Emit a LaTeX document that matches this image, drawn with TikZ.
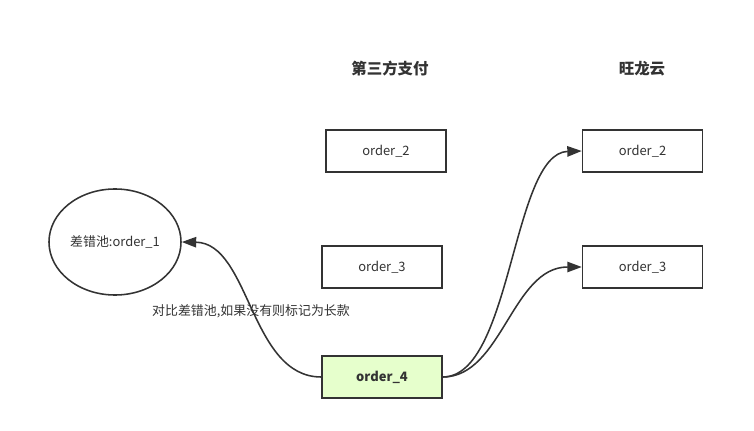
\documentclass[tikz,border=0pt]{standalone}
\usepackage{fontspec}
\setmainfont{Noto Sans CJK SC}
\usepackage{tikz}
\usetikzlibrary{arrows.meta,shapes.geometric}
\definecolor{ink}{RGB}{51,51,51}
\definecolor{mint}{RGB}{230,255,204}
\tikzset{
  orderbox/.style={draw=ink, line width=1.1pt, fill=white, text=ink,
              minimum width=3cm, minimum height=1.05cm, inner sep=2pt, font=\fontsize{9.2}{11}\selectfont},
  poolnode/.style={ellipse, draw=ink, line width=1.1pt, text=ink,
              minimum width=3.3cm, minimum height=2.65cm, inner sep=1pt, font=\fontsize{9.2}{11}\selectfont},
  title/.style={text=ink, font=\fontsize{11}{13}\selectfont\bfseries},
  flow/.style={-{Triangle[length=3.6mm,width=2.6mm]}, ink, line width=1.1pt},
}
\begin{document}
\begin{tikzpicture}[x=0.025cm,y=-0.025cm]
        \useasboundingbox (0,0) rectangle (754,431);
        \node[title] (t3rd) at (390,69) {第三方支付};
        \node[title] (twly) at (642,69) {旺龙云};
        \node[poolnode] (pool) at (115,242) {差错池:order\_1};
        \node[orderbox] (p2) at (386,151) {order\_2};
        \node[orderbox] (p3) at (382,267) {order\_3};
        \node[orderbox,fill=mint,font=\fontsize{9.2}{11}\selectfont\bfseries] (p4) at (382,377) {order\_4};
        \node[orderbox] (w2) at (642.5,151) {order\_2};
        \node[orderbox] (w3) at (642.5,267) {order\_3};
        \node[text=ink,font=\fontsize{9.2}{11}\selectfont] (note) at (251,311) {对比差错池,如果没有则标记为长款};
        \draw[flow] (p4.west) .. controls (250,377) and (250,243) .. (pool.east);
        \draw[flow] (p4.east) .. controls (512,377) and (512,153) .. (w2.west);
        \draw[flow] (p4.east) .. controls (502,377) and (512,267) .. (w3.west);
      \end{tikzpicture}
\end{document}
